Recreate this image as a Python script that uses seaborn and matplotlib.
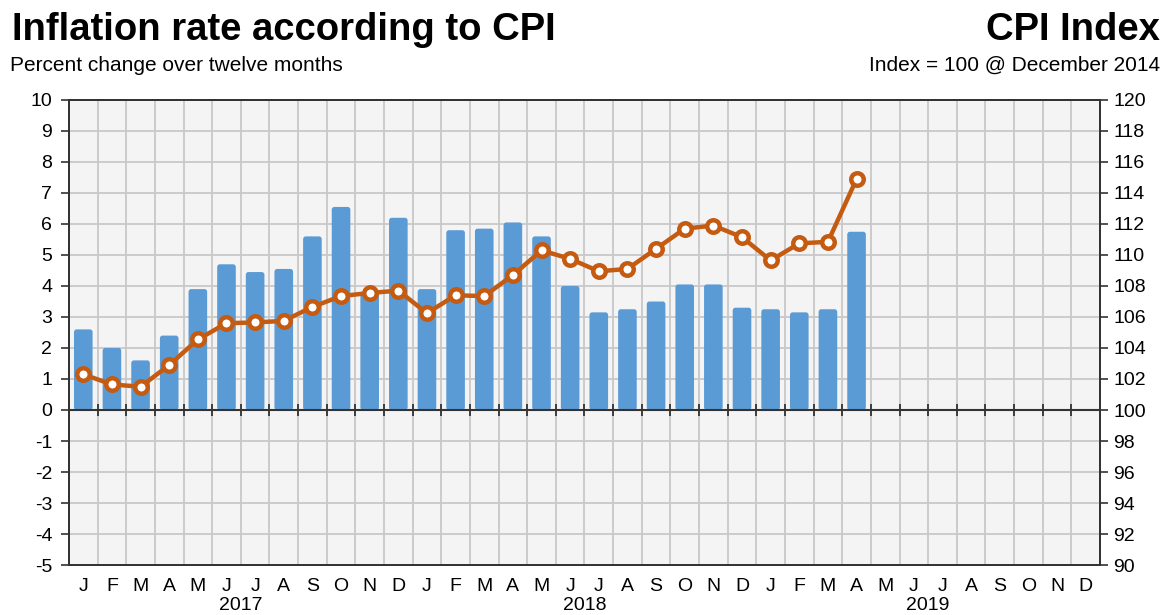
import numpy as np
import pandas as pd
import matplotlib
matplotlib.use("Agg")
import matplotlib.pyplot as plt
from matplotlib import transforms
from matplotlib.patches import FancyBboxPatch
import seaborn as sns

# Meses: enero 2017 - diciembre 2019
years = [2017, 2018, 2019]
month_letters = ["J", "F", "M", "A", "M", "J", "J", "A", "S", "O", "N", "D"]
month_keys = [f"{y}-{m:02d}" for y in years for m in range(1, 13)]

# Inflacion, variacion % en doce meses (ene 2017 - abr 2019)
inflation = [2.6, 2.0, 1.6, 2.4, 3.9, 4.7, 4.45, 4.55, 5.6, 6.55, 3.8, 6.2,
             3.9, 5.8, 5.85, 6.05, 5.6, 4.0, 3.15, 3.25, 3.5, 4.05, 4.05, 3.3,
             3.25, 3.15, 3.25, 5.75]

# Indice CPI, dic 2014 = 100
cpi = [102.3, 101.65, 101.5, 102.9, 104.55, 105.6, 105.65, 105.75, 106.65, 107.35, 107.55, 107.7,
       106.25, 107.4, 107.35, 108.7, 110.3, 109.75, 108.95, 109.1, 110.4, 111.7, 111.9, 111.15,
       109.65, 110.75, 110.85, 114.9]

bar_color = "#5b9bd5"
line_color = "#c55a11"
dark = "#333333"

df_bar = pd.DataFrame({"month": month_keys[:len(inflation)], "inflation": inflation})
df_line = pd.DataFrame({"pos": np.arange(len(cpi)), "cpi": cpi})

sns.set_theme(style="white")
plt.rcParams["font.family"] = ["Liberation Sans", "DejaVu Sans"]
plt.rcParams["axes.unicode_minus"] = False
plt.rcParams["text.color"] = "black"

fig = plt.figure(figsize=(11.65, 6.15), dpi=100)
ax = fig.add_axes([0.0592, 0.0813, 0.885, 0.7561])
ax.set_facecolor("#f4f4f4")

sns.barplot(data=df_bar, x="month", y="inflation", order=month_keys,
            color=bar_color, saturation=1, width=0.65, ax=ax, zorder=2)

# barras con esquinas redondeadas
for p in list(ax.patches):
    x, y = p.get_xy()
    w, h = p.get_width(), p.get_height()
    p.remove()
    ax.add_patch(FancyBboxPatch((x, y), w, h, boxstyle="round,pad=0,rounding_size=0.09",
                                fc=bar_color, ec="none", zorder=2))

# grilla
ax.set_xticks(np.arange(-0.5, 36, 1), minor=True)
ax.set_yticks(range(-5, 11))
ax.grid(which="minor", axis="x", color="#c8c8c8", lw=1.3)
ax.grid(which="major", axis="y", color="#c8c8c8", lw=1.3)
ax.set_axisbelow(True)
ax.set_xticks(range(36))
ax.set_xticklabels(month_letters * 3)
ax.set_ylim(-5, 10)
ax.set_xlim(-0.5, 35.5)
ax.set_xlabel("")
ax.set_ylabel("")
ax.tick_params(axis="x", which="both", length=0, pad=9, labelsize=14, labelcolor="black")
ax.tick_params(axis="y", length=6, width=1.2, color=dark, direction="out", pad=6,
               labelsize=14, labelcolor="black", left=True)

# linea del cero con marcas entre meses
bounds = np.arange(-0.5, 36, 1)
ax.axhline(0, color=dark, lw=1.5, zorder=3)
ax.plot(bounds, np.zeros_like(bounds), ls="none", marker="|", ms=9, mew=1.3,
        color=dark, zorder=3, clip_on=False)

# linea del CPI
ax2 = ax.twinx()
sns.lineplot(data=df_line, x="pos", y="cpi", ax=ax2, color=line_color, lw=3.2,
             marker="o", markersize=9, markerfacecolor="white",
             markeredgecolor=line_color, markeredgewidth=3.2, zorder=5)
ax2.set_ylim(90, 120)
ax2.set_yticks(range(90, 121, 2))
ax2.set_xlim(-0.5, 35.5)
ax2.set_xlabel("")
ax2.set_ylabel("")
ax2.grid(False)
ax2.tick_params(axis="y", length=6, width=1.2, color=dark, direction="out",
                labelsize=14, labelcolor="black", right=True)

for a in (ax, ax2):
    for s in a.spines.values():
        s.set_color(dark)
        s.set_linewidth(1.3)

# años
trans = transforms.blended_transform_factory(ax.transData, ax.transAxes)
for i, y in enumerate(years):
    ax.text(i * 12 + 5.5, -0.088, str(y), transform=trans, ha="center", va="center",
            fontsize=14, color="black")

# titulos
fig.text(12 / 1165, 1 - 40 / 615, "Inflation rate according to CPI", fontsize=27.5,
         weight="bold", va="baseline", ha="left", color="black")
fig.text(10 / 1165, 1 - 71 / 615, "Percent change over twelve months", fontsize=15,
         va="baseline", ha="left", color="black")
fig.text(1160 / 1165, 1 - 40 / 615, "CPI Index", fontsize=27.5,
         weight="bold", va="baseline", ha="right", color="black")
fig.text(1160 / 1165, 1 - 71 / 615, "Index = 100 @ December 2014", fontsize=15,
         va="baseline", ha="right", color="black")

fig.savefig("out.png", dpi=100, facecolor="white")
